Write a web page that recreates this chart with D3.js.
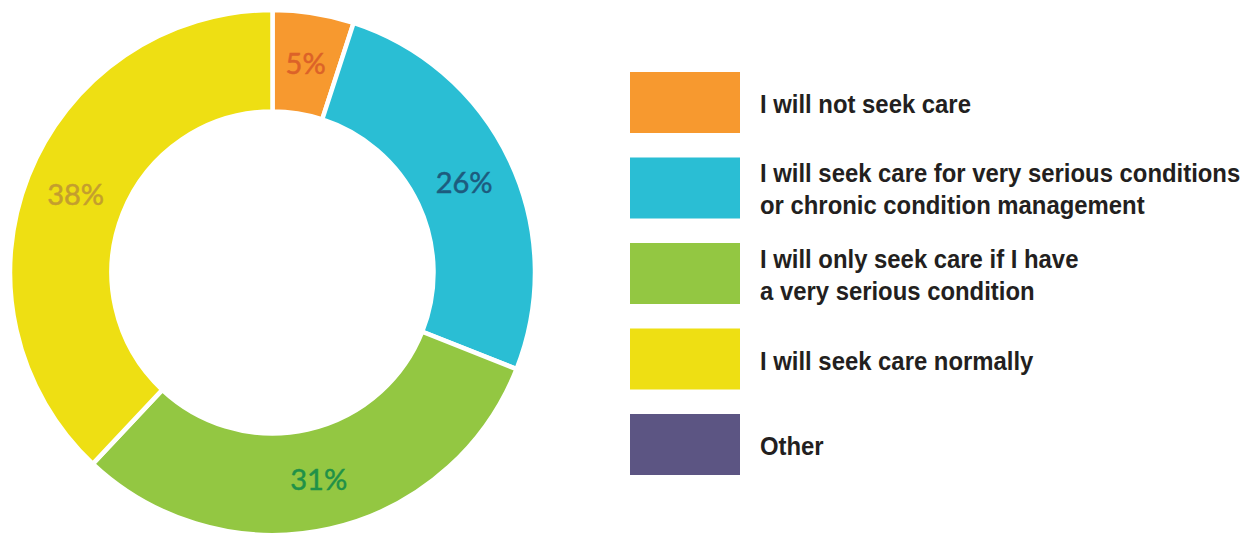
<!DOCTYPE html>
<html>
<head>
<meta charset="utf-8">
<script src="https://cdn.jsdelivr.net/npm/d3@7"></script>
<style>
  html, body { margin: 0; padding: 0; background: #ffffff; }
  svg { display: block; }
</style>
</head>
<body>
<svg id="chart" width="1253" height="536"></svg>
<script>
// Survey responses: intention to seek care
const categories = [
  "I will not seek care",
  "I will seek care for very serious conditions\nor chronic condition management",
  "I will only seek care if I have\na very serious condition",
  "I will seek care normally",
  "Other"
];
const shares = [5, 26, 31, 38, 0];
const fillColors = ["#f7992f", "#2abed4", "#93c742", "#eedf13", "#5c5583"];
const labelColors = ["#dc6228", "#1d5b7e", "#1f9148", "#c49e2e", "#3b355e"];

const svg = d3.select("#chart");

// Donut
const cx = 272.5, cy = 272.5, outerR = 262.5, innerR = 161;

const pie = d3.pie().sort(null).value(d => d.value);
const arcs = pie(categories.map((c, i) => ({ name: c, value: shares[i], i })))
  .filter(a => a.data.value > 0);

const arc = d3.arc().innerRadius(innerR).outerRadius(outerR);

const g = svg.append("g").attr("transform", `translate(${cx},${cy})`);

g.selectAll("path.slice")
  .data(arcs)
  .join("path")
  .attr("class", "slice")
  .attr("d", arc)
  .attr("fill", d => fillColors[d.data.i])
  .attr("stroke", "#ffffff")
  .attr("stroke-width", 4.5)
  .attr("stroke-linejoin", "miter");

g.selectAll("text.pct")
  .data(arcs)
  .join("text")
  .attr("class", "pct")
  .attr("transform", d => `translate(${arc.centroid(d)})`)
  .attr("text-anchor", "middle")
  .attr("dy", "0.36em")
  .attr("font-family", "Lato, 'Open Sans', sans-serif")
  .attr("font-size", 29)
  .attr("fill", d => labelColors[d.data.i])
  .attr("stroke", d => labelColors[d.data.i])
  .attr("stroke-width", 0.5)
  .text(d => `${d.data.value}%`);

// Legend
const legendX = 630, swatchW = 110, swatchH = 61;
const rowY = d3.scalePoint()
  .domain(d3.range(categories.length))
  .range([72, 414]);

const rows = svg.append("g").selectAll("g.row")
  .data(categories.map((c, i) => ({ lines: c.split("\n"), i })))
  .join("g")
  .attr("class", "row")
  .attr("transform", d => `translate(${legendX},${rowY(d.i)})`);

rows.append("rect")
  .attr("width", swatchW)
  .attr("height", swatchH)
  .attr("fill", d => fillColors[d.i]);

// Labels set in a slightly condensed bold face
rows.append("g")
  .attr("transform", `translate(${swatchW + 20},0) scale(0.955,1)`)
  .append("text")
  .attr("font-family", "'Liberation Sans', Arial, sans-serif")
  .attr("font-weight", "bold")
  .attr("font-size", 25)
  .attr("fill", "#231f20")
  .each(function(d) {
    const t = d3.select(this);
    const first = swatchH / 2 + 11 - 16.5 * (d.lines.length - 1);
    d.lines.forEach((ln, k) => {
      t.append("tspan")
        .attr("x", 0)
        .attr("y", first + k * 32)
        .text(ln);
    });
  });
</script>
</body>
</html>
